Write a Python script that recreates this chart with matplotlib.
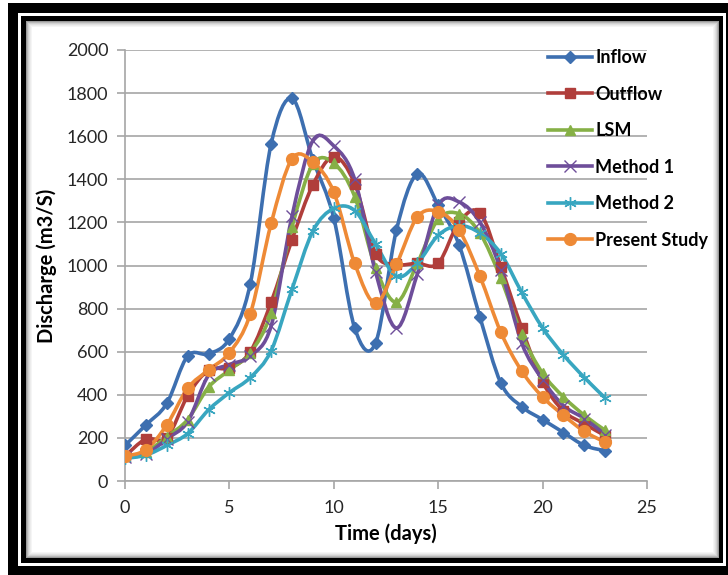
import numpy as np
import matplotlib
matplotlib.use("Agg")
import matplotlib.pyplot as plt
from matplotlib.path import Path
from matplotlib.patches import PathPatch, Rectangle
from matplotlib.lines import Line2D

# -----------------------------
# DADOS
# -----------------------------

t = list(range(24))

inflow = [165, 260, 360, 580, 590, 660, 915, 1565, 1775, 1490, 1220, 710,
          640, 1165, 1425, 1280, 1095, 760, 455, 345, 285, 225, 165, 140]
outflow = [115, 195, 200, 395, 515, 525, 600, 830, 1120, 1375, 1505, 1380,
           1055, 1005, 1010, 1010, 1200, 1245, 995, 710, 460, 325, 265, 210]
lsm = [115, 135, 205, 285, 435, 515, 595, 780, 1180, 1470, 1475, 1320,
       990, 830, 1010, 1215, 1240, 1150, 940, 680, 500, 390, 305, 235]
method1 = [110, 125, 195, 275, 490, 540, 580, 720, 1230, 1580, 1555, 1400,
           970, 710, 960, 1280, 1295, 1200, 980, 640, 470, 350, 290, 215]
method2 = [105, 120, 165, 220, 330, 410, 480, 605, 890, 1160, 1265, 1255,
           1100, 950, 1010, 1140, 1185, 1150, 1055, 875, 710, 585, 480, 385]
present = [115, 145, 260, 430, 515, 595, 775, 1195, 1495, 1480, 1340, 1010,
           825, 1005, 1225, 1250, 1165, 950, 690, 510, 390, 305, 230, 180]

series = [
    ("Inflow", inflow, "#3D6FB0", "D", 6.5, "full"),
    ("Outflow", outflow, "#B03E3B", "s", 6.5, "full"),
    ("LSM", lsm, "#86B046", "^", 7.5, "full"),
    ("Method 1", method1, "#6E4E9A", "x", 9, "none"),
    ("Method 2", method2, "#38A6C0", (6, 2, 0), 9, "none"),
    ("Present Study", present, "#EE8A36", "o", 8.5, "full"),
]

plt.rcParams['font.family'] = ['Lato', 'DejaVu Sans']


def curva_suave(x, y):
    # curva de Bezier estilo "linha suavizada" do Excel
    x = np.asarray(x, float)
    y = np.asarray(y, float)
    verts = [(x[0], y[0])]
    codes = [Path.MOVETO]
    n = len(x)
    for i in range(n - 1):
        i0 = max(i - 1, 0)
        i3 = min(i + 2, n - 1)
        c1 = (x[i] + (x[i + 1] - x[i0]) / 6, y[i] + (y[i + 1] - y[i0]) / 6)
        c2 = (x[i + 1] - (x[i3] - x[i]) / 6, y[i + 1] - (y[i3] - y[i]) / 6)
        verts += [c1, c2, (x[i + 1], y[i + 1])]
        codes += [Path.CURVE4] * 3
    return Path(verts, codes)


fig = plt.figure(figsize=(7.28, 5.75), dpi=100)

# -----------------------------
# MOLDURA
# -----------------------------
W, H = 728, 575


def ret(x0, y0, x1, y1, cor):
    # coordenadas em pixels a partir do topo
    fig.patches.append(Rectangle((x0 / W, 1 - y1 / H), (x1 - x0) / W, (y1 - y0) / H,
                                 transform=fig.transFigure, facecolor=cor,
                                 edgecolor="none", zorder=-10))


ret(8, 3, 740, 580, "black")
ret(18, 13, 726, 566, "white")
ret(21, 16, 723, 563, "black")
ret(26, 21, 719, 558, "#9a9a9a")
for k, c in enumerate(["#b8b8b8", "#d0d0d0", "#e0e0e0", "#ececec", "#f5f5f5", "white"]):
    ret(27 + k, 22 + k, 718 - k, 557 - k, c)

# -----------------------------
# GRÁFICO
# -----------------------------
ax = fig.add_axes([125 / W, 1 - 481 / H, (647 - 125) / W, (481 - 50) / H])
ax.set_facecolor("none")

for nome, y, cor, mk, ms, fill in series:
    ax.add_patch(PathPatch(curva_suave(t, y), facecolor="none", edgecolor=cor,
                           lw=2.6, zorder=3))
    if fill == "none":
        ax.plot(t, y, ls="none", marker=mk, ms=ms, color=cor, mew=1.0, zorder=4)
    else:
        ax.plot(t, y, ls="none", marker=mk, ms=ms, color=cor, mec=cor, zorder=4)

ax.set_xlim(0, 25)
ax.set_ylim(0, 2000)
ax.set_xticks(range(0, 26, 5))
ax.set_yticks(range(0, 2001, 200))
ax.grid(axis="y", color="#a6a6a6", lw=1.2, zorder=0)
ax.set_axisbelow(True)

for s in ["top", "right"]:
    ax.spines[s].set_visible(False)
for s in ["left", "bottom"]:
    ax.spines[s].set_color("#a6a6a6")
    ax.spines[s].set_linewidth(1.2)
ax.tick_params(axis="both", colors="#a6a6a6", labelcolor="#262626",
               labelsize=13, length=6, width=1.2)
ax.tick_params(axis="x", pad=8)
ax.tick_params(axis="y", pad=6)

ax.set_xlabel("Time (days)", fontsize=14.5, fontweight="bold", labelpad=5)
ax.set_ylabel("Discharge (m3/S)", fontsize=14.5, fontweight="bold", labelpad=7)

handles = [Line2D([], [], color=cor, lw=2.6, marker=mk, ms=ms,
                  mfc=(cor if fill == "full" else "none"), mew=1.0)
           for nome, y, cor, mk, ms, fill in series]
fig.legend(handles, [s[0] for s in series], loc="upper left",
           bbox_to_anchor=(541 / W, 1 - 42 / H), frameon=False,
           prop={"size": 13, "weight": "bold"}, handlelength=2.4,
           handletextpad=0.2, labelspacing=1.08, borderaxespad=0)

fig.savefig("out.png", dpi=100)
